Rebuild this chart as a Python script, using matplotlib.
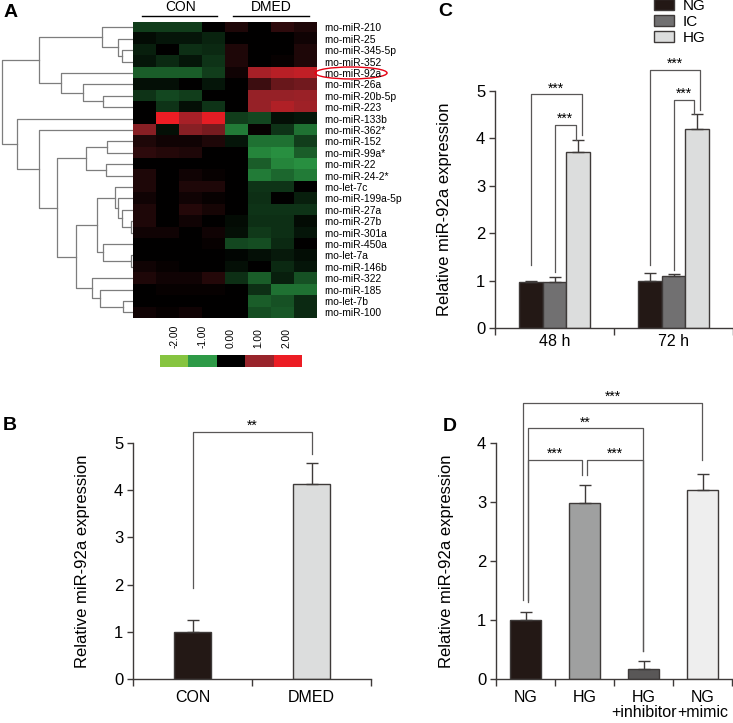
import numpy as np
import matplotlib.pyplot as plt
from matplotlib.colors import LinearSegmentedColormap, ListedColormap, Normalize
from matplotlib.patches import Patch, Ellipse

plt.rcParams['font.family'] = ['Liberation Sans', 'DejaVu Sans']

# ---- DATA ----
mirnas = ['rno-miR-210', 'rno-miR-25', 'rno-miR-345-5p', 'rno-miR-352', 'rno-miR-92a',
          'rno-miR-26a', 'rno-miR-20b-5p', 'rno-miR-223', 'rno-miR-133b', 'rno-miR-362*',
          'rno-miR-152', 'rno-miR-99a*', 'rno-miR-22', 'rno-miR-24-2*', 'rno-let-7c',
          'rno-miR-199a-5p', 'rno-miR-27a', 'rno-miR-27b', 'rno-miR-301a', 'rno-miR-450a',
          'rno-let-7a', 'rno-miR-146b', 'rno-miR-322', 'rno-miR-185', 'rno-let-7b', 'rno-miR-100']
# 4 CON columns then 4 DMED columns
hm_values = [
    [-0.6, -0.6, -0.6, 0.0, 0.2, 0.0, 0.3, 0.2],
    [-0.1, -0.2, -0.2, -0.35, 0.0, 0.0, 0.0, 0.1],
    [-0.3, 0.0, -0.45, -0.4, 0.2, 0.0, 0.0, 0.2],
    [-0.2, -0.4, -0.2, -0.5, 0.2, 0.0, 0.05, 0.2],
    [-0.9, -0.9, -0.9, -0.6, 0.1, 1.2, 1.4, 1.5],
    [-0.15, -0.15, 0.0, -0.2, 0.0, 0.4, 0.7, 0.75],
    [-0.5, -0.7, -0.6, 0.0, 0.0, 1.0, 1.0, 1.05],
    [0.0, -0.5, -0.15, -0.5, 0.0, 1.0, 1.3, 1.1],
    [0.0, 2.0, 1.2, 1.9, -0.6, -0.7, -0.15, -0.2],
    [0.9, -0.15, 0.9, 0.8, -1.2, 0.05, -0.5, -1.1],
    [0.2, 0.1, 0.1, 0.2, -0.2, -1.1, -1.1, -0.6],
    [0.3, 0.25, 0.2, 0.0, 0.0, -1.3, -1.4, -0.9],
    [0.0, 0.0, 0.0, 0.0, 0.0, -0.9, -1.3, -1.4],
    [0.2, 0.0, 0.1, 0.05, 0.0, -1.2, -1.0, -1.2],
    [0.2, 0.0, 0.2, 0.2, 0.0, -0.5, -0.5, 0.0],
    [0.1, 0.0, 0.1, 0.05, 0.0, -0.45, 0.0, -0.3],
    [0.2, 0.0, 0.25, 0.15, 0.0, -0.5, -0.5, -0.5],
    [0.2, 0.0, 0.1, 0.0, -0.1, -0.45, -0.45, -0.1],
    [0.1, 0.1, 0.0, 0.1, -0.15, -0.55, -0.45, -0.2],
    [0.0, 0.0, 0.0, 0.05, -0.7, -0.75, -0.4, 0.0],
    [0.0, 0.0, 0.0, 0.0, -0.05, -0.15, -0.25, -0.12],
    [0.1, 0.05, 0.0, 0.0, -0.15, 0.0, -0.4, -0.2],
    [0.2, 0.1, 0.1, 0.25, -0.45, -0.9, -0.3, -0.8],
    [0.0, 0.05, 0.05, 0.05, 0.0, -0.45, -1.1, -1.1],
    [0.0, 0.0, 0.0, 0.0, 0.0, -0.9, -0.8, -0.4],
    [0.1, 0.05, 0.1, 0.0, 0.0, -0.75, -0.85, -0.4],
]
# row clustering: (child a, child b, distance); leaves 0..25, new nodes from 26
merges = [
    (2, 3, 11), (1, 26, 15), (0, 27, 31), (6, 7, 30), (5, 29, 50), (4, 30, 72),
    (28, 31, 94), (10, 11, 26), (12, 13, 27), (33, 34, 47), (17, 18, 2), (16, 36, 11),
    (15, 37, 15), (14, 38, 18), (20, 21, 2), (19, 40, 30), (39, 41, 36), (24, 25, 10),
    (23, 43, 33), (22, 44, 41), (42, 45, 57), (35, 46, 76), (9, 47, 94), (8, 48, 116),
    (32, 49, 131),
]
cb_ticks = [-2, -1, 0, 1, 2]
cb_colors = ['#86c440', '#2e9a47', '#000000', '#98242b', '#ec1d24']

b_groups = ['CON', 'DMED']
b_vals = [1.0, 4.13]
b_err = [0.24, 0.45]

c_groups = ['48 h', '72 h']
c_series = ['NG', 'IC', 'HG']
c_vals = {'NG': [0.98, 1.0], 'IC': [0.98, 1.1], 'HG': [3.72, 4.2]}
c_err = {'NG': [0.02, 0.17], 'IC': [0.1, 0.03], 'HG': [0.24, 0.32]}

d_groups = ['NG', 'HG', 'HG\n+inhibitor', 'NG\n+mimic']
d_vals = [1.0, 2.98, 0.17, 3.21]
d_err = [0.14, 0.31, 0.13, 0.27]

# significance brackets: x left, x right, top, left foot, right foot, label
b_sig = [(0, 1, 5.23, 1.93, 4.77, '**')]
c_sig = [(-0.2, 0.23, 4.93, 1.33, 4.07, '***'), (0.0, 0.18, 4.29, 1.19, 3.97, '***'),
         (0.8, 1.22, 5.45, 1.33, 4.59, '***'), (1.0, 1.17, 4.82, 1.23, 4.52, '***')]
d_sig = [(-0.04, 2.99, 4.68, 1.34, 3.72, '***'), (0.04, 1.99, 4.25, 1.31, 0.47, '**'),
         (0.04, 0.96, 3.71, 1.34, 3.45, '***'), (1.04, 1.99, 3.71, 3.45, 0.47, '***')]

edge = '#3e3a39'
W, H = 733, 723
fig = plt.figure(figsize=(W / 100, H / 100), dpi=100)


def rect(x0, y0, x1, y1):
    return [x0 / W, 1 - y1 / H, (x1 - x0) / W, (y1 - y0) / H]


# ---- A: heatmap ----
cmap = LinearSegmentedColormap.from_list('gr', [(0.0, '#86c440'), (0.2, '#2b9a45'), (0.5, '#000000'),
                                                (0.7, '#962228'), (0.9, '#ec1d24'), (1.0, '#ec1d24')])
nr, nc = len(hm_values), len(hm_values[0])
ax_h = fig.add_axes(rect(133, 21.7, 317, 318))
ax_h.imshow(np.array(hm_values), cmap=cmap, norm=Normalize(-2.5, 2.5), aspect='auto', interpolation='nearest')
ax_h.set_xticks([])
ax_h.yaxis.tick_right()
ax_h.set_yticks(range(nr))
ax_h.set_yticklabels(mirnas, fontsize=7.4)
ax_h.tick_params(axis='y', length=0, pad=5)
for s in ax_h.spines.values():
    s.set_visible(False)
ax_h.plot([-0.11, 3.15], [-1.0, -1.0], color='k', lw=1, clip_on=False)
ax_h.plot([3.85, 7.15], [-1.0, -1.0], color='k', lw=1, clip_on=False)
ax_h.text(1.55, -1.75, 'CON', ha='center', va='center', fontsize=10)
ax_h.text(5.5, -1.75, 'DMED', ha='center', va='center', fontsize=10)
ax_h.add_patch(Ellipse((8.98, 4), 3.13, 1.05, fill=False, ec='#e60012', lw=1, clip_on=False))
ax_h.set_xlim(-0.5, nc - 0.5)
ax_h.set_ylim(nr - 0.5, -0.5)

# dendrogram
ax_d = fig.add_axes(rect(0, 21.7, 133, 318))
pos = {i: i for i in range(nr)}
hgt = {i: 0 for i in range(nr)}
for k, (a, b, d) in enumerate(merges):
    ax_d.plot([hgt[a], d, d, hgt[b]], [pos[a], pos[a], pos[b], pos[b]], color='#7d7d7d', lw=0.9)
    pos[nr + k] = (pos[a] + pos[b]) / 2
    hgt[nr + k] = d
ax_d.set_xlim(133, 0)
ax_d.set_ylim(nr - 0.5, -0.5)
ax_d.axis('off')

# colour key
ax_c = fig.add_axes(rect(160, 355, 301, 367))
ax_c.imshow([cb_ticks], cmap=ListedColormap(cb_colors), aspect='auto')
ax_c.xaxis.tick_top()
ax_c.set_xticks(range(len(cb_ticks)))
ax_c.set_xticklabels(['%.2f' % t for t in cb_ticks], rotation=90, fontsize=7.4)
ax_c.tick_params(axis='x', length=0, pad=5)
ax_c.set_yticks([])
for s in ax_c.spines.values():
    s.set_visible(False)


# ---- bar panels ----
def style(ax, top, labels, xpad):
    n = len(labels)
    ax.set_xlim(-0.5, n - 0.5)
    ax.set_ylim(0, top)
    ax.spines[['top', 'right']].set_visible(False)
    ax.spines['left'].set_bounds(0, top)
    for s in ['left', 'bottom']:
        ax.spines[s].set_linewidth(1)
        ax.spines[s].set_color(edge)
    ax.set_yticks(range(top + 1))
    ax.tick_params(axis='y', length=4, width=1, color=edge, labelsize=12, pad=3)
    ax.set_xticks(range(n))
    ax.set_xticklabels(labels)
    ax.tick_params(axis='x', which='major', length=0, labelsize=11.5, pad=xpad)
    ax.set_xticks(np.arange(-0.5, n), minor=True)
    ax.tick_params(axis='x', which='minor', length=5, width=1, color=edge)
    ax.set_ylabel('Relative miR-92a expression', fontsize=12)
    ax.yaxis.set_label_coords(-0.18, 0.5)


def brackets(ax, sig, fs):
    for x0, x1, top, y0, y1, lab in sig:
        ax.plot([x0, x0, x1, x1], [y0, top, top, y1], color='#595757', lw=0.9, clip_on=False)
        ax.text((x0 + x1) / 2, top + 0.04 * ax.get_ylim()[1] / 5, lab, ha='center', va='baseline', fontsize=fs)


def errs(ax, x, v, e):
    ax.errorbar(x, v, yerr=[np.zeros(len(v)), e], fmt='none', ecolor=edge, elinewidth=1, capsize=4, capthick=1)


# B
axB = fig.add_axes(rect(133, 443, 371, 679))
axB.bar(range(2), b_vals, width=0.31, color=['#231815', '#dcdddd'], edgecolor=edge, lw=1)
errs(axB, range(2), b_vals, b_err)
style(axB, 5, b_groups, 8)
brackets(axB, b_sig, 10)

# C
axC = fig.add_axes(rect(495, 91, 733, 328))
c_colors = {'NG': '#231815', 'IC': '#717071', 'HG': '#dcdddd'}
x = np.arange(len(c_groups))
for i, s in enumerate(c_series):
    xs = x + (i - 1) * 0.2
    axC.bar(xs, c_vals[s], width=0.2, color=c_colors[s], edgecolor=edge, lw=1, label=s)
    errs(axC, xs, c_vals[s], c_err[s])
style(axC, 5, c_groups, 4.5)
brackets(axC, c_sig, 10)
handles = [Patch(facecolor=c_colors[s], edgecolor=edge, lw=1) for s in c_series]
fig.legend(handles, c_series, loc='upper left', bbox_to_anchor=(654 / W, 1 + 1 / H), frameon=False,
           fontsize=11, handlelength=1.3, handleheight=0.7, handletextpad=0.6, labelspacing=0.12,
           borderpad=0, borderaxespad=0)

# D
axD = fig.add_axes(rect(496, 443, 732, 679))
axD.bar(range(4), d_vals, width=0.51, color=['#231815', '#9fa0a0', '#595757', '#eeeeee'],
        edgecolor=edge, lw=1)
errs(axD, range(4), d_vals, d_err)
style(axD, 4, d_groups, 8)
axD.set_xticklabels(d_groups, linespacing=1.0)
brackets(axD, d_sig, 10)

# panel letters
for lab, px, py in [('A', 4, 4), ('B', 3, 417), ('C', 438, 3), ('D', 443, 418)]:
    fig.text(px / W, 1 - py / H, lab, fontsize=14, fontweight='bold', ha='left', va='top')

fig.savefig('out.png', dpi=100)
